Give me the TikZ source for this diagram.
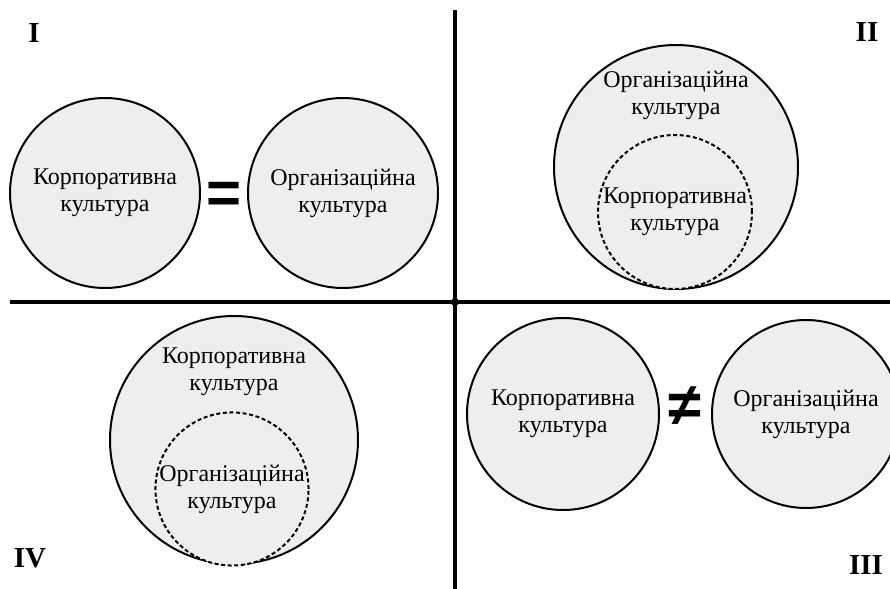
\documentclass[tikz,border=0pt]{standalone}
\usepackage{fontspec}
\setmainfont{Liberation Serif}
\newfontfamily\signfont{Liberation Sans}
\usepackage{xcolor}
\definecolor{cultfill}{RGB}{238,238,238}

\begin{document}
\begin{tikzpicture}[x=0.5pt, y=-0.5pt,
    cult/.style={circle, draw=black, line width=1pt, fill=cultfill, inner sep=0pt,
      align=center, font=\fontsize{12}{13.5}\selectfont},
    inner/.style={cult, dash pattern=on 2pt off 1.3pt},
    txt/.style={align=center, font=\fontsize{12}{13.5}\selectfont},
    axis/.style={line width=2pt},
    quad/.style={font=\bfseries\fontsize{14.5}{16}\selectfont},
    sign/.style={font=\signfont\bfseries\fontsize{30}{30}\selectfont, inner sep=0pt}]

  \useasboundingbox (0,0) rectangle (890,589);

  %--- Axes ---
  \coordinate (west) at (10,302);
  \coordinate (east) at (890,302);
  \coordinate (north) at (455,10);
  \coordinate (south) at (455,589);
  \coordinate (origin) at (455,302);
  \draw[axis] (west) -- (east);
  \draw[axis] (north) -- (south);
  \fill (origin) circle (4);

  %--- Quadrant labels ---
  \node[quad] (qI) at (34,33) {I};
  \node[quad] (qII) at (867,32) {II};
  \node[quad] (qIII) at (866,565) {III};
  \node[quad] (qIV) at (30,558) {IV};

  %--- I: corporate = organisational ---
  \node[cult, minimum size=95pt] (corpI) at (105,193) {Корпоративна\\культура};
  \node[cult, minimum size=95pt] (orgI) at (343,193) {Організаційна\\культура};
  \node[sign] (eqI) at (224,198) {=};

  %--- II: organisational contains corporate ---
  \node[cult, minimum size=122pt] (orgII) at (676,167) {};
  \node[txt] (orgIItxt) at (676,95) {Організаційна\\культура};
  \node[inner, minimum size=77pt] (corpII) at (675,212) {Корпоративна\\культура};

  %--- III: corporate != organisational ---
  \node[cult, minimum size=96pt] (corpIII) at (563,414) {Корпоративна\\культура};
  \node[cult, minimum size=94pt] (orgIII) at (806,414) {Організаційна\\культура};
  \node[sign] (neIII) at (685,406) {≠};

  %--- IV: corporate contains organisational ---
  \node[cult, minimum size=124pt] (corpIV) at (234,440) {};
  \node[txt] (corpIVtxt) at (234,372) {Корпоративна\\культура};
  \node[inner, minimum size=76pt] (orgIV) at (232,489) {Організаційна\\культура};

\end{tikzpicture}
\end{document}
